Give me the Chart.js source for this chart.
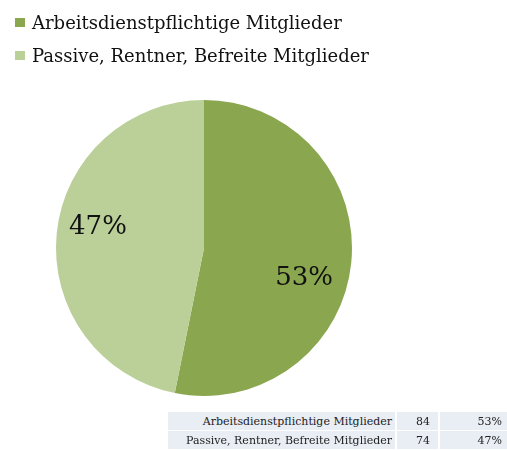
<!DOCTYPE html>
<html>
<head>
<meta charset="utf-8">
<script src="https://cdn.jsdelivr.net/npm/chart.js@4.4.0/dist/chart.umd.min.js"></script>
<style>
  html, body { margin: 0; padding: 0; background: #fff; }
  #wrap { position: relative; width: 507px; height: 450px; overflow: hidden; }
  #c { position: absolute; left: 0; top: 0; }
  .cell { position: absolute; background: #E9EDF4; text-align: right; white-space: nowrap; box-sizing: border-box;
          font-family: "DejaVu Serif", Georgia, serif; font-size: 11px; color: #222; height: 18px; line-height: 19px; }
</style>
</head>
<body>
<div id="wrap">
  <canvas id="c" width="507" height="450"></canvas>
</div>
<script>
const categories = ['Arbeitsdienstpflichtige Mitglieder', 'Passive, Rentner, Befreite Mitglieder'];
const counts = [84, 74];
const percentLabels = ['53%', '47%'];

const colors = ['#8AA750', '#BBCF99'];
const labelOffsets = [[-6, 20], [0, -10]];
const serif = '"DejaVu Serif", Georgia, serif';

// Table cells (layout: left, width, right padding)
const cols = [[168, 227, 3], [397, 41, 8], [440, 67, 5]];
const wrap = document.getElementById('wrap');
categories.forEach((cat, i) => {
  [cat, String(counts[i]), percentLabels[i]].forEach((txt, j) => {
    const d = document.createElement('div');
    d.className = 'cell';
    d.textContent = txt;
    d.style.left = cols[j][0] + 'px';
    d.style.width = cols[j][1] + 'px';
    d.style.paddingRight = cols[j][2] + 'px';
    d.style.top = (412 + i * 19) + 'px';
    wrap.appendChild(d);
  });
});

const legendAndLabels = {
  id: 'legendAndLabels',
  afterDraw(chart) {
    const ctx = chart.ctx;
    ctx.save();
    ctx.font = '18px ' + serif;
    ctx.textBaseline = 'alphabetic';
    ctx.textAlign = 'left';
    chart.data.labels.forEach((lab, i) => {
      const y = 29 + i * 33;
      ctx.fillStyle = colors[i];
      ctx.fillRect(15, y - 11, 10, 9);
      ctx.fillStyle = '#111';
      ctx.fillText(lab, 32, y);
    });
    const meta = chart.getDatasetMeta(0);
    ctx.font = '26px ' + serif;
    ctx.textAlign = 'center';
    ctx.textBaseline = 'middle';
    ctx.fillStyle = '#111';
    meta.data.forEach((arc, i) => {
      const p = arc.getProps(['x', 'y', 'startAngle', 'endAngle', 'outerRadius'], true);
      const mid = (p.startAngle + p.endAngle) / 2;
      const r = p.outerRadius * 0.72;
      const x = p.x + Math.cos(mid) * r + labelOffsets[i][0];
      const y = p.y + Math.sin(mid) * r + labelOffsets[i][1];
      ctx.fillText(percentLabels[i], x, y);
    });
    ctx.restore();
  }
};

new Chart(document.getElementById('c'), {
  type: 'pie',
  data: {
    labels: categories,
    datasets: [{ data: counts, backgroundColor: colors, borderWidth: 0 }]
  },
  options: {
    responsive: false,
    animation: false,
    layout: { padding: { left: 56, right: 155, top: 100, bottom: 54 } },
    plugins: { legend: { display: false }, tooltip: { enabled: false } }
  },
  plugins: [legendAndLabels]
});
</script>
</body>
</html>
